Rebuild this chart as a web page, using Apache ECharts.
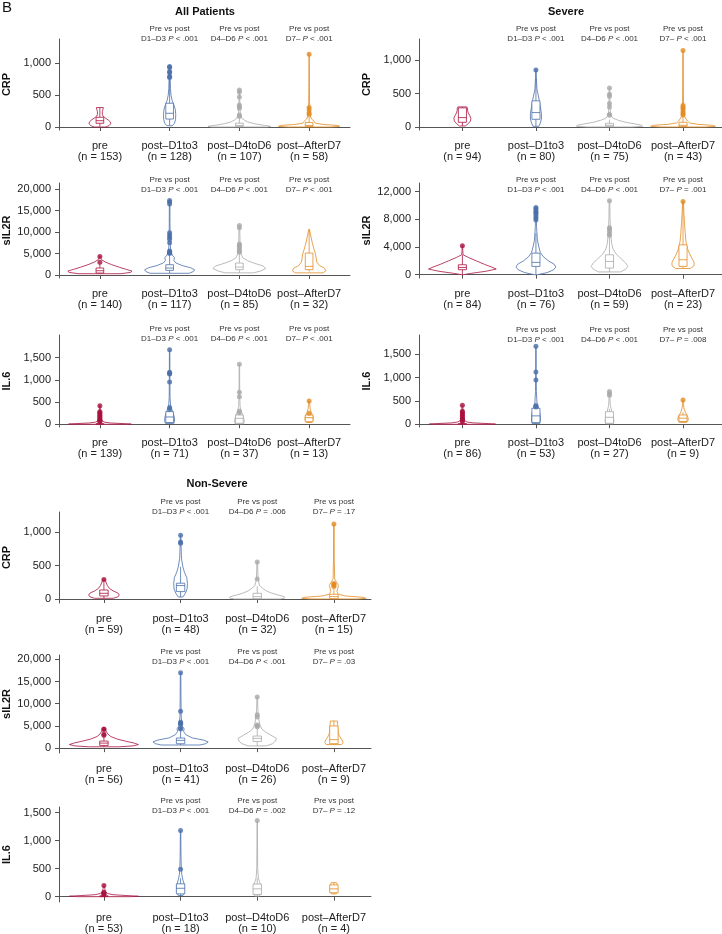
<!DOCTYPE html>
<html>
<head>
<meta charset="utf-8">
<script src="https://cdn.jsdelivr.net/npm/echarts@6/dist/echarts.min.js"></script>
<style>
  html, body { margin: 0; padding: 0; background: #fff; }
  #chart { width: 722px; height: 934px; }
</style>
</head>
<body>
<div id="chart"></div>
<script>
// groups and colours
const categories = ['pre', 'post–D1to3', 'post–D4toD6', 'post–AfterD7'];
const groupColors = ['#a9123f', '#4a6ea9', '#a9a9a9', '#e38b22'];

const crpTicks = [0, 500, 1000];
const il2Ticks = [0, 5000, 10000, 15000, 20000];
const il2SevTicks = [0, 4000, 8000, 12000];
const il6Ticks = [0, 500, 1000, 1500];

// violin outlines: [value, half width in category units]
// box: [lower whisker, q1, median, q3, upper whisker]

// ---- All patients ----
const allCrpN = [153, 128, 107, 58];
const allCrpP = ['D1–D3 P < .001', 'D4–D6 P < .001', 'D7– P < .001'];
const allCrpViolin = [
  [[0, 0.08], [20, 0.13], [50, 0.155], [80, 0.15], [110, 0.12], [140, 0.08], [170, 0.045], [200, 0.035], [240, 0.035], [280, 0.045], [305, 0.05]],
  [[20, 0.04], [60, 0.07], [120, 0.085], [200, 0.088], [280, 0.08], [350, 0.06], [420, 0.035], [500, 0.02], [600, 0.012], [750, 0.008], [900, 0.006], [950, 0.003]],
  [[0, 0.4], [10, 0.45], [25, 0.36], [50, 0.22], [80, 0.12], [110, 0.07], [140, 0.035], [190, 0.015], [300, 0.008], [450, 0.005], [580, 0.004]],
  [[0, 0.3], [10, 0.44], [25, 0.4], [40, 0.2], [60, 0.09], [90, 0.07], [120, 0.04], [160, 0.02], [250, 0.012], [400, 0.006], [700, 0.004], [1140, 0.003]]
];
const allCrpBox = [[8, 58, 99, 152, 305], [25, 125, 215, 372, 740], [0, 8, 25, 60, 140], [0, 8, 25, 70, 160]];
const allCrpOut = [[], [950, 935, 870, 850, 790, 775], [580, 550, 470, 345, 320, 295, 190, 165], [1140, 305, 270, 225, 195]];

const allIl2N = [140, 117, 85, 32];
const allIl2P = ['D1–D3 P < .001', 'D4–D6 P < .001', 'D7– P < .001'];
const allIl2Violin = [
  [[300, 0.3], [600, 0.44], [900, 0.46], [1300, 0.38], [1800, 0.28], [2400, 0.17], [3000, 0.08], [3600, 0.02], [4300, 0.005]],
  [[400, 0.28], [800, 0.34], [1200, 0.36], [1700, 0.3], [2200, 0.18], [2800, 0.09], [3400, 0.06], [4000, 0.07], [4600, 0.04], [5500, 0.015], [8000, 0.008], [12000, 0.005], [17300, 0.004]],
  [[500, 0.2], [900, 0.3], [1500, 0.38], [2100, 0.34], [2700, 0.22], [3300, 0.12], [4000, 0.05], [5000, 0.02], [7000, 0.01], [11500, 0.005]],
  [[500, 0.2], [1000, 0.24], [1600, 0.22], [2200, 0.15], [3000, 0.11], [4000, 0.1], [5000, 0.09], [6000, 0.07], [7500, 0.045], [9000, 0.025], [10600, 0.005]]
];
const allIl2Box = [[300, 460, 1000, 1620, 2700], [400, 1080, 1620, 2390, 4400], [500, 1240, 1850, 2780, 5000], [800, 1240, 2000, 5100, 10600]];
const allIl2Out = [[4300, 2950], [17300, 17000, 16500, 9800, 9300, 8800, 8300, 7500, 5600, 5400, 5200, 5000], [11500, 11000, 7200, 6900, 6500, 6000, 5500, 5300], []];

const allIl6N = [139, 71, 37, 13];
const allIl6P = ['D1–D3 P < .001', 'D4–D6 P < .001', 'D7– P < .001'];
const allIl6Violin = [
  [[0, 0.4], [5, 0.45], [15, 0.35], [30, 0.15], [50, 0.06], [80, 0.03], [150, 0.015], [250, 0.01], [420, 0.005]],
  [[20, 0.06], [60, 0.07], [120, 0.07], [180, 0.065], [250, 0.05], [320, 0.035], [400, 0.015], [600, 0.006], [1000, 0.004], [1680, 0.003]],
  [[10, 0.06], [60, 0.07], [120, 0.065], [200, 0.05], [280, 0.03], [400, 0.01], [700, 0.005], [1350, 0.003]],
  [[40, 0.04], [80, 0.055], [140, 0.06], [200, 0.05], [260, 0.03], [350, 0.015], [450, 0.008], [525, 0.004]]
];
const allIl6Box = [[0, 2, 5, 12, 30], [20, 40, 165, 285, 380], [10, 22, 135, 210, 300], [40, 60, 150, 210, 260]];
const allIl6Out = [[420, 285, 260, 230, 200, 170, 140, 110, 90, 75, 60], [1680, 1170, 1150, 1130, 950, 380, 340], [1350, 720, 620, 300, 260], [525, 250]];

// ---- Severe ----
const sevCrpN = [94, 80, 75, 43];
const sevCrpP = ['D1–D3 P < .001', 'D4–D6 P < .001', 'D7– P < .001'];
const sevCrpViolin = [
  [[15, 0.04], [50, 0.08], [90, 0.11], [130, 0.115], [170, 0.1], [210, 0.08], [250, 0.07], [280, 0.07], [300, 0.06]],
  [[10, 0.04], [60, 0.06], [120, 0.075], [200, 0.075], [300, 0.06], [400, 0.045], [480, 0.03], [550, 0.015], [700, 0.007], [860, 0.004]],
  [[0, 0.3], [10, 0.45], [25, 0.44], [45, 0.35], [70, 0.22], [100, 0.12], [130, 0.05], [180, 0.015], [300, 0.008], [580, 0.004]],
  [[0, 0.3], [10, 0.44], [25, 0.4], [40, 0.2], [60, 0.09], [90, 0.06], [120, 0.04], [160, 0.02], [250, 0.012], [400, 0.006], [700, 0.004], [1140, 0.003]]
];
const sevCrpBox = [[15, 70, 140, 285, 300], [10, 115, 215, 390, 720], [0, 10, 25, 55, 110], [0, 8, 25, 70, 160]];
const sevCrpOut = [[], [850], [580, 490, 460, 350, 300, 185, 175], [1140, 320, 290, 270, 230, 200, 180]];

const sevIl2N = [84, 76, 59, 23];
const sevIl2P = ['D1–D3 P < .001', 'D4–D6 P < .001', 'D7– P = .001'];
const sevIl2Violin = [
  [[0, 0.01], [200, 0.12], [500, 0.32], [820, 0.46], [1100, 0.4], [1500, 0.3], [2000, 0.19], [2500, 0.08], [2880, 0.01], [3500, 0.005], [4200, 0.004]],
  [[0, 0.02], [300, 0.15], [700, 0.24], [1100, 0.27], [1500, 0.25], [2000, 0.17], [2600, 0.1], [3200, 0.06], [4000, 0.04], [5000, 0.02], [7000, 0.008], [9800, 0.004]],
  [[400, 0.15], [800, 0.22], [1200, 0.25], [1700, 0.22], [2300, 0.16], [3000, 0.09], [3700, 0.05], [4500, 0.03], [6000, 0.015], [8000, 0.008], [10700, 0.004]],
  [[900, 0.1], [1300, 0.15], [1800, 0.15], [2400, 0.12], [3000, 0.09], [3800, 0.06], [4800, 0.04], [6000, 0.03], [7500, 0.02], [9000, 0.012], [10600, 0.006]]
];
const sevIl2Box = [[0, 720, 1050, 1440, 2880], [0, 1200, 1780, 3120, 6000], [400, 960, 1920, 2880, 5500], [900, 1200, 2160, 4320, 10600]];
const sevIl2Out = [[4200], [9700, 9500, 9200, 9000, 8800, 8500, 8200, 7900], [10700, 6800, 6600, 6300, 5900, 5700], [10600]];

const sevIl6N = [86, 53, 27, 9];
const sevIl6P = ['D1–D3 P < .001', 'D4–D6 P < .001', 'D7– P = .008'];
const sevIl6Violin = [
  [[0, 0.4], [5, 0.45], [15, 0.35], [30, 0.15], [50, 0.06], [80, 0.03], [150, 0.015], [250, 0.01], [410, 0.005]],
  [[15, 0.05], [80, 0.06], [150, 0.06], [220, 0.055], [300, 0.045], [380, 0.03], [450, 0.015], [700, 0.006], [1100, 0.004], [1670, 0.003]],
  [[10, 0.05], [60, 0.06], [120, 0.055], [200, 0.045], [280, 0.03], [400, 0.012], [550, 0.006], [700, 0.003]],
  [[40, 0.05], [90, 0.07], [140, 0.07], [200, 0.05], [260, 0.03], [350, 0.012], [450, 0.006], [520, 0.003]]
];
const sevIl6Box = [[0, 2, 5, 12, 30], [15, 36, 180, 343, 420], [10, 21, 150, 270, 330], [40, 60, 130, 200, 260]];
const sevIl6Out = [[410, 280, 250, 220, 190, 160, 130, 100, 80, 60], [1670, 1120, 950, 400, 370], [700, 660, 620], [520]];

// ---- Non-severe ----
const nsCrpN = [59, 48, 32, 15];
const nsCrpP = ['D1–D3 P < .001', 'D4–D6 P = .006', 'D7– P = .17'];
const nsCrpViolin = [
  [[10, 0.12], [30, 0.18], [60, 0.2], [90, 0.18], [120, 0.12], [160, 0.07], [200, 0.045], [240, 0.03], [290, 0.015]],
  [[30, 0.03], [80, 0.06], [150, 0.085], [230, 0.09], [320, 0.08], [400, 0.05], [480, 0.03], [600, 0.012], [800, 0.006], [950, 0.003]],
  [[0, 0.3], [15, 0.36], [35, 0.35], [60, 0.27], [90, 0.18], [120, 0.12], [160, 0.07], [200, 0.03], [300, 0.01], [560, 0.004]],
  [[0, 0.3], [10, 0.42], [25, 0.38], [45, 0.15], [70, 0.06], [110, 0.04], [160, 0.05], [200, 0.06], [240, 0.04], [300, 0.01], [600, 0.005], [1120, 0.004]]
];
const nsCrpBox = [[10, 45, 85, 134, 285], [30, 110, 200, 235, 480], [0, 5, 35, 85, 190], [0, 5, 35, 70, 150]];
const nsCrpOut = [[290], [950, 850, 830], [550, 300], [1120, 230, 215, 200, 185]];

const nsIl2N = [56, 41, 26, 9];
const nsIl2P = ['D1–D3 P < .001', 'D4–D6 P < .001', 'D7– P = .03'];
const nsIl2Violin = [
  [[300, 0.2], [500, 0.38], [800, 0.45], [1100, 0.4], [1500, 0.3], [2000, 0.18], [2600, 0.09], [3200, 0.05], [3800, 0.03], [4300, 0.01]],
  [[700, 0.25], [1000, 0.33], [1400, 0.36], [1800, 0.3], [2300, 0.15], [3000, 0.07], [3700, 0.04], [4400, 0.045], [5000, 0.02], [7000, 0.008], [12000, 0.005], [17000, 0.003]],
  [[500, 0.12], [1000, 0.2], [1600, 0.24], [2200, 0.25], [2900, 0.18], [3600, 0.11], [4300, 0.06], [5200, 0.035], [7000, 0.015], [9000, 0.008], [11500, 0.004]],
  [[800, 0.1], [1300, 0.12], [2000, 0.1], [2800, 0.07], [3600, 0.055], [4500, 0.05], [5300, 0.05], [6100, 0.045]]
];
const nsIl2Box = [[300, 600, 1130, 1590, 3000], [700, 980, 1740, 2270, 4200], [500, 1510, 2190, 2720, 4500], [800, 1000, 1900, 5000, 6100]];
const nsIl2Out = [[4300, 4200, 3100, 2900], [17000, 8300, 5800, 5600, 5400, 4500, 4300], [11500, 7500, 7000, 5200, 5000, 4800], []];

const nsIl6N = [53, 18, 10, 4];
const nsIl6P = ['D1–D3 P < .001', 'D4–D6 P = .002', 'D7– P = .12'];
const nsIl6Violin = [
  [[0, 0.35], [8, 0.45], [20, 0.3], [35, 0.12], [55, 0.05], [90, 0.02], [150, 0.01], [200, 0.004]],
  [[20, 0.03], [80, 0.045], [150, 0.05], [230, 0.045], [300, 0.03], [400, 0.015], [500, 0.01], [700, 0.006], [900, 0.004], [1180, 0.003]],
  [[10, 0.03], [70, 0.045], [130, 0.05], [200, 0.045], [270, 0.03], [330, 0.015], [500, 0.006], [900, 0.004], [1360, 0.003]],
  [[50, 0.03], [90, 0.045], [150, 0.045], [210, 0.045], [250, 0.035]]
];
const nsIl6Box = [[0, 2, 6, 15, 35], [20, 50, 150, 230, 330], [10, 40, 140, 225, 330], [50, 70, 140, 210, 250]];
const nsIl6Out = [[200, 80, 60, 50, 40], [1180, 490], [1360], []];

// panel layout
const panels = [
  { name: 'CRP', n: allCrpN, p: allCrpP, violin: allCrpViolin, box: allCrpBox, out: allCrpOut, ticks: crpTicks,
    left: 58, top: 39, width: 292, height: 91, x: [0.414, 4.586], y: [-47, 1380], pm: -5 },
  { name: 'sIL2R', n: allIl2N, p: allIl2P, violin: allIl2Violin, box: allIl2Box, out: allIl2Out, ticks: il2Ticks,
    left: 58, top: 183, width: 292, height: 95, x: [0.414, 4.586], y: [-695, 21390], pm: -12 },
  { name: 'IL.6', n: allIl6N, p: allIl6P, violin: allIl6Violin, box: allIl6Box, out: allIl6Out, ticks: il6Ticks,
    left: 58, top: 335, width: 292, height: 92, x: [0.414, 4.586], y: [-61, 2011], pm: -9 },
  { name: 'CRP', n: sevCrpN, p: sevCrpP, violin: sevCrpViolin, box: sevCrpBox, out: sevCrpOut, ticks: crpTicks,
    left: 419, top: 39, width: 303, height: 91, x: [0.41, 4.53], y: [-45, 1313], pm: -5 },
  { name: 'sIL2R', n: sevIl2N, p: sevIl2P, violin: sevIl2Violin, box: sevIl2Box, out: sevIl2Out, ticks: il2SevTicks,
    left: 419, top: 183, width: 303, height: 95, x: [0.41, 4.53], y: [-475, 13256], pm: -12 },
  { name: 'IL.6', n: sevIl6N, p: sevIl6P, violin: sevIl6Violin, box: sevIl6Box, out: sevIl6Out, ticks: il6Ticks,
    left: 419, top: 335, width: 303, height: 92, x: [0.41, 4.53], y: [-58, 1912], pm: -10 },
  { name: 'CRP', n: nsCrpN, p: nsCrpP, violin: nsCrpViolin, box: nsCrpBox, out: nsCrpOut, ticks: crpTicks,
    left: 58, top: 512, width: 313, height: 91, x: [0.414, 4.484], y: [-60, 1298], pm: -5 },
  { name: 'sIL2R', n: nsIl2N, p: nsIl2P, violin: nsIl2Violin, box: nsIl2Box, out: nsIl2Out, ticks: il2Ticks,
    left: 58, top: 655, width: 313, height: 98, x: [0.414, 4.484], y: [-1100, 20970], pm: -12 },
  { name: 'IL.6', n: nsIl6N, p: nsIl6P, violin: nsIl6Violin, box: nsIl6Box, out: nsIl6Out, ticks: il6Ticks,
    left: 58, top: 807, width: 313, height: 95, x: [0.414, 4.484], y: [-95, 1602], pm: -9 }
];

const FONT = '"Liberation Sans", Arial, Helvetica, sans-serif';
const AXIS = '#555';

function violinRenderer(violin, box) {
  return function (params, api) {
    const g = params.dataIndex;
    const x = api.value(0);
    const color = groupColors[g];
    const dens = violin[g];
    const pts = [];
    dens.forEach(d => pts.push(api.coord([x + d[1], d[0]])));
    for (let i = dens.length - 1; i >= 0; i--) pts.push(api.coord([x - dens[i][1], dens[i][0]]));
    const [lo, q1, med, q3, hi] = box[g];
    const bw = 0.055;
    const tl = api.coord([x - bw, q3]);
    const br = api.coord([x + bw, q1]);
    const c = v => api.coord([x, v]);
    const ml = api.coord([x - bw, med]);
    const mr = api.coord([x + bw, med]);
    const line = { stroke: color, lineWidth: 0.8 };
    return {
      type: 'group',
      children: [
        { type: 'polygon', shape: { points: pts }, style: { fill: '#fff', stroke: color, lineWidth: 0.8 } },
        { type: 'line', shape: { x1: c(q3)[0], y1: c(q3)[1], x2: c(hi)[0], y2: c(hi)[1] }, style: line },
        { type: 'line', shape: { x1: c(q1)[0], y1: c(q1)[1], x2: c(lo)[0], y2: c(lo)[1] }, style: line },
        { type: 'rect', shape: { x: tl[0], y: tl[1], width: br[0] - tl[0], height: br[1] - tl[1] },
          style: { fill: '#fff', stroke: color, lineWidth: 0.8 } },
        { type: 'line', shape: { x1: ml[0], y1: ml[1], x2: mr[0], y2: mr[1] }, style: line }
      ]
    };
  };
}

const option = {
  animation: false,
  textStyle: { fontFamily: FONT },
  grid: [],
  xAxis: [],
  yAxis: [],
  series: [],
  graphic: [
    { type: 'text', x: 2, y: 0, style: { text: 'B', font: '15px ' + FONT, fill: '#111' } },
    { type: 'text', x: 205, y: 12, style: { text: 'All Patients', font: 'bold 11px ' + FONT, fill: '#111', textAlign: 'center', textVerticalAlign: 'middle' } },
    { type: 'text', x: 566, y: 12, style: { text: 'Severe', font: 'bold 11px ' + FONT, fill: '#111', textAlign: 'center', textVerticalAlign: 'middle' } },
    { type: 'text', x: 217, y: 484, style: { text: 'Non-Severe', font: 'bold 11px ' + FONT, fill: '#111', textAlign: 'center', textVerticalAlign: 'middle' } }
  ]
};

panels.forEach((p, k) => {
  option.grid.push({ left: p.left, top: p.top, width: p.width, height: p.height });
  option.xAxis.push({
    gridIndex: k, type: 'value', min: p.x[0], max: p.x[1],
    axisLine: { lineStyle: { color: AXIS, width: 1 } },
    axisTick: { customValues: [1, 2, 3, 4], length: 4, lineStyle: { color: AXIS } },
    axisLabel: {
      customValues: [1, 2, 3, 4],
      formatter: v => { const i = Math.round(v) - 1; return categories[i] + '\n(n = ' + p.n[i] + ')'; },
      fontSize: 11, lineHeight: 11, color: '#222', margin: 10
    },
    splitLine: { show: false }
  });
  option.xAxis.push({
    gridIndex: k, type: 'value', position: 'top', min: p.x[0], max: p.x[1],
    axisLine: { show: false }, axisTick: { show: false },
    axisLabel: {
      customValues: [2, 3, 4],
      formatter: v => 'Pre vs post\n' + p.p[Math.round(v) - 2].replace(/P (?=[<=])/, '{i|P} '),
      fontSize: 8, lineHeight: 10, color: '#333', margin: p.pm,
      rich: { i: { fontStyle: 'italic', fontSize: 8, lineHeight: 10, color: '#333' } }
    },
    splitLine: { show: false }
  });
  option.yAxis.push({
    gridIndex: k, type: 'value', min: p.y[0], max: p.y[1],
    name: p.name, nameLocation: 'middle', nameGap: 47, nameRotate: 90,
    nameTextStyle: { fontWeight: 'bold', fontSize: 11, color: '#111' },
    axisLine: { show: true, lineStyle: { color: AXIS, width: 1 } },
    axisTick: { show: true, customValues: p.ticks, length: 4, lineStyle: { color: AXIS } },
    axisLabel: { customValues: p.ticks, formatter: v => v.toLocaleString('en-US'), fontSize: 11, color: '#222', margin: 8 },
    splitLine: { show: false }
  });
  option.series.push({
    type: 'custom', xAxisIndex: 2 * k, yAxisIndex: k, silent: true, clip: false,
    data: p.box.map((b, g) => [g + 1, b[2]]),
    renderItem: violinRenderer(p.violin, p.box), z: 2
  });
  const pts = [];
  p.out.forEach((vals, g) => vals.forEach(v => pts.push({ value: [g + 1, v], itemStyle: { color: groupColors[g] } })));
  option.series.push({
    type: 'scatter', xAxisIndex: 2 * k, yAxisIndex: k, silent: true,
    symbolSize: 5, data: pts, z: 3
  });
});

const chart = echarts.init(document.getElementById('chart'), null, { renderer: 'canvas' });
chart.setOption(option);
</script>
</body>
</html>
